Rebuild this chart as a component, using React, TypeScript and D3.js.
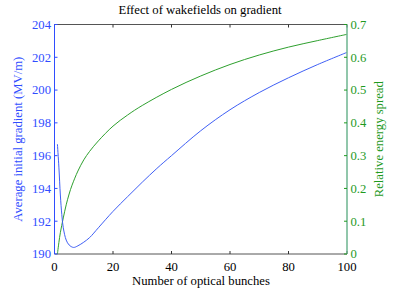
import React from "react";
import * as d3 from "d3";

const bunchesBlue = [1, 1.5, 2, 2.5, 3, 4, 5, 6.5, 8, 10, 12, 15, 20, 25, 30, 35, 40, 50, 60, 70, 80, 90, 100];
const gradient = [196.7, 195.3, 193.6, 192.4, 191.6, 190.85, 190.55, 190.4, 190.5, 190.72, 191.0, 191.6, 192.6, 193.5, 194.38, 195.22, 196.0, 197.52, 198.8, 199.85, 200.75, 201.56, 202.3];

const bunchesGreen = [1, 1.5, 2, 3, 4, 5, 6, 8, 10, 12, 15, 20, 25, 30, 40, 50, 60, 70, 80, 90, 100];
const spread = [0, 0.035, 0.065, 0.11, 0.15, 0.183, 0.21, 0.253, 0.287, 0.313, 0.345, 0.39, 0.424, 0.453, 0.502, 0.543, 0.578, 0.607, 0.631, 0.651, 0.67];

const xTicks = [0, 20, 40, 60, 80, 100];
const leftTicks = [190, 192, 194, 196, 198, 200, 202, 204];
const rightTicks = [0, 0.1, 0.2, 0.3, 0.4, 0.5, 0.6, 0.7];

const W = 400, H = 302;
const L = 54.5, R = 347, T = 24.5, B = 254;
const BLUE = "#2f4dff";
const BLUE_LINE = "#3f5ff5";
const GREEN = "#1f9a1f";
const GREEN_LINE = "#2ea02e";
const FONT = "'Liberation Serif', 'Times New Roman', 'DejaVu Serif', serif";
const FS = 12.7;
const ts: React.CSSProperties = { fontFamily: FONT, fontSize: FS };

export default function App() {
  const x = d3.scaleLinear().domain([0, 100]).range([L, R]);
  const yL = d3.scaleLinear().domain([190, 204]).range([B, T]);
  const yR = d3.scaleLinear().domain([0, 0.7]).range([B, T]);

  const blueLine = d3
    .line<number>()
    .x((_, i) => x(bunchesBlue[i]))
    .y((d) => yL(d))
    .curve(d3.curveCatmullRom.alpha(0.5))(gradient) as string;
  const greenLine = d3
    .line<number>()
    .x((_, i) => x(bunchesGreen[i]))
    .y((d) => yR(d))
    .curve(d3.curveCatmullRom.alpha(0.5))(spread) as string;

  return (
    <svg width={W} height={H} style={{ position: "absolute", left: 0, top: 0, background: "#fff" }}>
      <rect x={0} y={0} width={W} height={H} fill="#fff" />
      <text x={200} y={14} textAnchor="middle" style={ts} fill="#000">Effect of wakefields on gradient</text>

      {/* box */}
      <line x1={L} x2={R} y1={T} y2={T} stroke="#555" strokeWidth={1} />
      <line x1={L} x2={R} y1={B} y2={B} stroke="#555" strokeWidth={1} />

      {xTicks.map((t) => (
        <g key={"x" + t}>
          <line x1={x(t)} x2={x(t)} y1={B} y2={B - 3} stroke="#333" />
          <line x1={x(t)} x2={x(t)} y1={T} y2={T + 3} stroke="#333" />
          <text x={x(t)} y={270.5} textAnchor="middle" style={ts} fill="#000">{t}</text>
        </g>
      ))}

      {/* curves */}
      <path d={greenLine} fill="none" stroke={GREEN_LINE} strokeWidth={1} />
      <path d={blueLine} fill="none" stroke={BLUE_LINE} strokeWidth={1} />

      {/* left axis */}
      <line x1={L} x2={L} y1={T} y2={B} stroke={BLUE} strokeWidth={1} />
      {leftTicks.map((t) => (
        <g key={"l" + t}>
          <line x1={L} x2={L + 3} y1={yL(t)} y2={yL(t)} stroke={BLUE} />
          <text x={L - 3.5} y={yL(t) + 4.3} textAnchor="end" style={ts} fill={BLUE}>{t}</text>
        </g>
      ))}
      <text transform={`translate(21.5,${(T + B) / 2}) rotate(-90)`} textAnchor="middle" style={ts} fill={BLUE}>
        Average initial gradient (MV/m)
      </text>

      {/* right axis */}
      <line x1={R} x2={R} y1={T} y2={B} stroke="#6cb58f" strokeWidth={1.5} />
      {rightTicks.map((t) => (
        <g key={"r" + t}>
          <line x1={R} x2={R - 3} y1={yR(t)} y2={yR(t)} stroke={GREEN} />
          <text x={R + 3.5} y={yR(t) + 4.3} textAnchor="start" style={ts} fill={GREEN}>{t}</text>
        </g>
      ))}
      <text transform={`translate(382.5,${(T + B) / 2}) rotate(-90)`} textAnchor="middle" style={ts} fill={GREEN}>
        Relative energy spread
      </text>

      <text x={201} y={285} textAnchor="middle" style={ts} fill="#000">Number of optical bunches</text>
    </svg>
  );
}
